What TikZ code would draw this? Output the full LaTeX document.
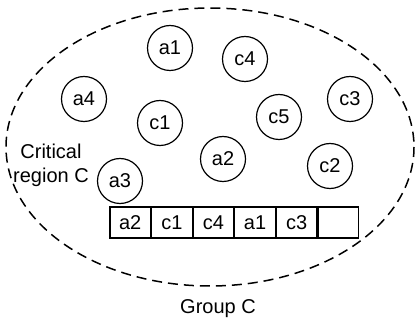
\documentclass[tikz,border=0pt]{standalone}
\usepackage{fontspec}
\setmainfont{Liberation Sans}
\usetikzlibrary{positioning}

\begin{document}
\begin{tikzpicture}[
  x=1pt, y=-1pt,
  node distance=0pt,
  proc/.style={draw, circle, line width=1.2pt, minimum size=45pt, inner sep=0pt, font=\fontsize{20}{22}\selectfont},
  slot/.style={draw, line width=1.1pt, minimum width=40.5pt, minimum height=31pt, inner sep=0pt, font=\fontsize{20}{22}\selectfont},
  region/.style={dashed, line width=1.5pt, dash pattern=on 10pt off 6pt}
]
  \useasboundingbox (0,0) rectangle (417,320);
  % group boundary
  \draw[region] (210,147) ellipse (204 and 139);
  \node[font=\fontsize{20}{22}\selectfont] (grp) at (218,309) {Group C};
  \node[align=center, font=\fontsize{20}{24}\selectfont] (crit) at (51,165) {Critical\\region C};
  % processes in the region
  \node[proc] (a1) at (170,48) {a1};
  \node[proc] (c4) at (245,59) {c4};
  \node[proc] (a4) at (84,99) {a4};
  \node[proc] (c1) at (160,123) {c1};
  \node[proc] (c5) at (279,117) {c5};
  \node[proc] (c3) at (350,99) {c3};
  \node[proc] (a2) at (223,159) {a2};
  \node[proc] (c2) at (330,166) {c2};
  \node[proc] (a3) at (120,181) {a3};
  % waiting queue
  \node[slot] (q1) at (130.25,222.5) {a2};
  \node[slot, right=of q1] (q2) {c1};
  \node[slot, right=of q2] (q3) {c4};
  \node[slot, right=of q3] (q4) {a1};
  \node[slot, right=of q4] (q5) {c3};
  \node[slot, right=of q5] (q6) {};
\end{tikzpicture}
\end{document}
